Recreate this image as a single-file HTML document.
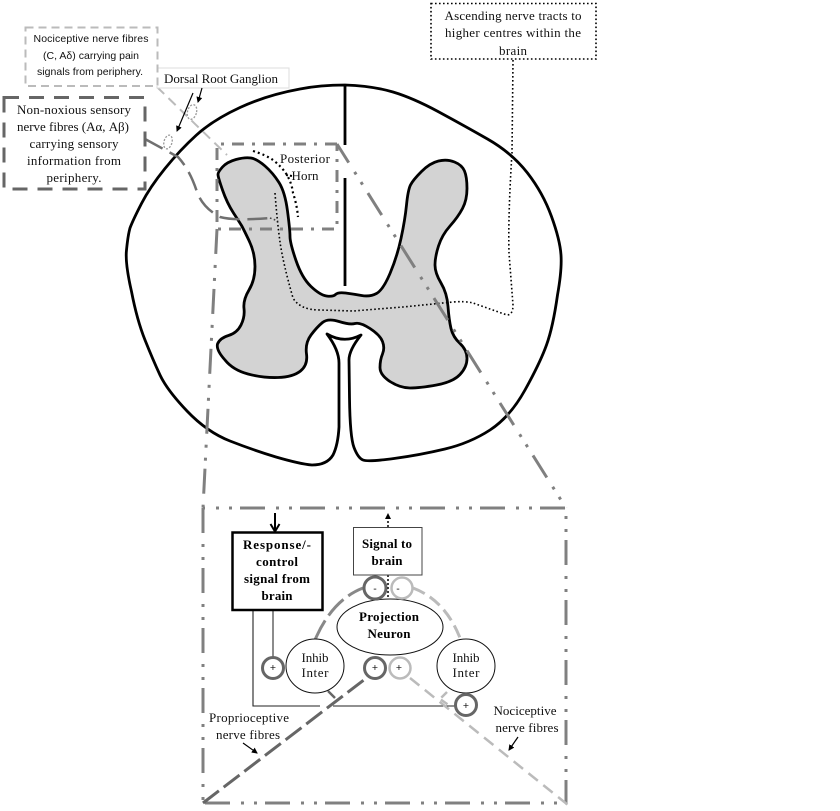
<!DOCTYPE html>
<html><head><meta charset="utf-8"><style>
html,body{margin:0;padding:0;background:#fff}
svg{display:block}
text{font-family:"Liberation Serif",serif;font-size:13px;fill:#111;text-anchor:middle}
.b{font-weight:bold;fill:#000}
.s{font-family:"Liberation Sans",sans-serif;font-size:10.5px}
</style></head><body>
<svg width="840" height="811" viewBox="0 0 840 811" xmlns="http://www.w3.org/2000/svg">
<defs>
<marker id="h" markerWidth="8" markerHeight="8" refX="5" refY="3" orient="auto" markerUnits="userSpaceOnUse"><path d="M0 0L6 3L0 6Z" fill="#000"/></marker>
</defs>
<rect width="840" height="811" fill="#fff"/>
<!-- outer outline -->
<path fill="none" stroke="#000" stroke-width="2.800" stroke-linejoin="round" d="M345 85Q373 86 393 92Q413 98 438 111.5Q463 125 487.5 139Q512 153 527.5 173Q543 193 551.5 216.5Q560 240 561 255Q562 270 557.5 295Q553 327 546.5 345Q540 363 525 390Q510 417 490 430Q470 443 445 449Q420 455 394 458.5Q368 462 363 460Q358 458 354 447.5Q350 437 349.5 398L349 360Q349 350 361 335Q344 344 327 334Q339 350 339 363L339 427Q338 445 333 455Q327 465 312 465Q300 464 276 457Q253 450 230 441Q207 432 187 411Q167 390 160 375Q153 360 145 340Q137 320 131.5 291.5Q125 263 126.5 250Q128 235 130 228Q133 220 141.5 203.5Q150 187 165 168.5Q180 150 196.5 135Q213 120 240 107.5Q267 95 300 89Q320 85 345 85Z"/>
<!-- gray matter -->
<path fill="#d3d3d3" stroke="#000" stroke-width="2.800" stroke-linejoin="round" d="M222.5 167Q227 162 236 159.5Q245 157 251 158Q257 159 265 166Q273 173 279 182.5Q285 192 287.5 211Q290 230 290 236.5Q290 243 296 260.5Q302 278 311 286.5Q320 295 326.5 296Q333 297 335.5 294.5Q338 292 345.5 293Q353 294 361.5 295.5Q370 297 376.5 293.5Q383 290 390 273.5Q397 257 401 238.5Q405 220 406.5 205Q408 190 410.5 185Q413 180 421.5 171.5Q430 163 438.5 161Q447 159 454.5 162Q462 165 464.5 171Q467 177 467 188.5Q467 200 462.5 208.5Q458 217 450 226Q442 235 438.5 246Q435 257 435 265Q435 273 441 283Q447 293 448 306.5Q449 320 451 328.5Q453 337 460 343.5Q467 350 467 358.5Q467 367 460 374.5Q453 382 436.5 385Q420 388 410 388Q400 388 390 381.5Q380 375 380 367.5Q380 360 382.5 354Q385 348 382.5 341.5Q380 335 370 328.5Q360 322 355 323.5Q350 325 339 321.5Q328 318 322.5 322.5Q317 327 311 335Q305 343 306.5 354Q308 365 300.5 371Q293 377 278 377.5Q263 378 248 374Q233 370 225 360Q216 350 217.5 344Q220 338 228.5 335.5Q237 333 241 325Q245 317 244 308.5Q243 300 249 290Q255 280 255 266.5Q255 253 249 240.5Q243 228 241.5 225.5Q240 223 233.5 213Q227 203 222.5 190Q218 177 218 174.5Q218 172 222.5 167Z"/>
<!-- midline -->
<path d="M345 85V145M345 178V286" stroke="#000" stroke-width="2.800" fill="none"/>
<!-- ascending tract dotted -->
<path fill="none" stroke="#000" stroke-width="1.6" stroke-dasharray="1.6 2.4" d="M275 193Q277 220 280 242Q283 263 293 298Q300 310 320 310L353 311L403 307L453 302Q465 301 473 303L507 315Q513 315 513 305L509 253Q508 215 512 153L513 60"/>
<!-- posterior horn dotted -->
<path fill="none" stroke="#000" stroke-width="2.200" stroke-dasharray="2 3" d="M253 151Q266 155 273 160Q282 167 287 175Q292 184 293 193Q297 205 298 217"/>
<path fill="none" stroke="#000" stroke-width="2" stroke-dasharray="2 2" d="M286 175L292 176"/>
<!-- zoom projection -->
<g fill="none" stroke="#808080" stroke-width="3">
<path stroke-dasharray="26 11 3 9 3 10" stroke-dashoffset="4" d="M337 144L566 508"/>
<path stroke-dasharray="25 11 3 10 3 8" d="M217 229L203 508"/>
<path stroke-dasharray="12 8 3 8" d="M337 144H217V229H337V144"/>
<path stroke-dasharray="25 11 3 10 3 8" stroke-dashoffset="23" d="M203 508H566"/>
<path stroke-dasharray="25 11 3 10 3 8" stroke-dashoffset="28" d="M566 508V803"/>
<path stroke-dasharray="25 11 3 10 3 8" stroke-dashoffset="58" d="M203 803H566"/>
<path stroke-dasharray="25 11 3 10 3 8" d="M203 508V803"/>
</g>
<!-- fibres top -->
<path fill="none" stroke="#bbb" stroke-width="2" stroke-dasharray="10 6" d="M157 87L227 155"/>
<path fill="none" stroke="#707070" stroke-width="2.500" stroke-dasharray="20 8" d="M145 139L178 157Q190 170 197 192Q203 208 220 217Q235 221 270 218"/>
<path fill="none" stroke="#444" stroke-width="1.6" stroke-dasharray="1.6 2.4" d="M270 218L278 221"/>
<ellipse cx="192" cy="112" rx="4.5" ry="7.5" transform="rotate(15 192 112)" fill="#fff" stroke="#999" stroke-width="1.3" stroke-dasharray="2 1.5"/>
<ellipse cx="168" cy="142" rx="4" ry="7" transform="rotate(15 168 142)" fill="#fff" stroke="#999" stroke-width="1.3" stroke-dasharray="2 1.5"/>
<!-- top labels -->
<rect x="157" y="68" width="132" height="20" fill="#fff" stroke="#ddd" stroke-width="1"/>
<text x="221" y="83" textLength="114" lengthAdjust="spacing">Dorsal Root Ganglion</text>
<rect x="25.5" y="27.5" width="132" height="58.5" fill="#fff" stroke="#bbb" stroke-width="2" stroke-dasharray="8 5"/>
<text class="s" x="91" y="42" textLength="115" lengthAdjust="spacing">Nociceptive nerve fibres</text>
<text class="s" x="91" y="59" textLength="96" lengthAdjust="spacing">(C, Aδ) carrying pain</text>
<text class="s" x="90" y="75" textLength="106" lengthAdjust="spacing">signals from periphery.</text>
<rect x="4" y="97.5" width="141" height="91.5" fill="#fff" stroke="#666" stroke-width="3" stroke-dasharray="15 10"/>
<text x="74" y="114" textLength="114" lengthAdjust="spacing">Non-noxious sensory</text>
<text x="73" y="131" textLength="112" lengthAdjust="spacing">nerve fibres (Aα, Aβ)</text>
<text x="74" y="148" textLength="89" lengthAdjust="spacing">carrying sensory</text>
<text x="74" y="165" textLength="94" lengthAdjust="spacing">information from</text>
<text x="74" y="182" textLength="55" lengthAdjust="spacing">periphery.</text>
<path d="M193 93L177 131" stroke="#000" stroke-width="1.2" fill="none" marker-end="url(#h)"/>
<path d="M202 88L198 102" stroke="#000" stroke-width="1.2" fill="none" marker-end="url(#h)"/>
<text x="305" y="163" textLength="50" lengthAdjust="spacing">Posterior</text>
<text x="305" y="180" textLength="27" lengthAdjust="spacing">Horn</text>
<text x="513" y="20" textLength="137" lengthAdjust="spacing">Ascending nerve tracts to</text>
<text x="513" y="37" textLength="136" lengthAdjust="spacing">higher centres within the</text>
<text x="513" y="55" textLength="28" lengthAdjust="spacing">brain</text>
<rect x="431" y="3.5" width="165" height="55.5" fill="none" stroke="#000" stroke-width="1.600" stroke-dasharray="1.6 2.4"/>
<!-- lower diagram -->
<g fill="none">
<path d="M315 640Q332 600 363 588" stroke="#888" stroke-width="3" stroke-dasharray="22 6"/>
<path d="M413 588Q445 600 460 638" stroke="#bbb" stroke-width="3" stroke-dasharray="13 6"/>
<path d="M273 610V657" stroke="#666" stroke-width="1.5"/>
<path d="M253 610V706H320M333 706H455" stroke="#222" stroke-width="1.1"/>
<path d="M328 691L335 698" stroke="#666" stroke-width="2.5"/>
<path d="M447 692L440 699L450 706" stroke="#bbb" stroke-width="2.5" stroke-dasharray="8 3"/>
<path d="M203 803L369 676" stroke="#666" stroke-width="3" stroke-dasharray="20 6"/>
<path d="M410 678L568 805" stroke="#bbb" stroke-width="2.5" stroke-dasharray="12 7"/>
<path d="M388 575V600" stroke="#000" stroke-width="1.5" stroke-dasharray="2 2"/>
<path d="M388 527V519" stroke="#000" stroke-width="1.5" stroke-dasharray="2 2"/>
</g>
<path d="M388 513L385 519H391Z" fill="#000"/>
<path d="M275 513V531M270.5 524L275 531.5L279.500 524" stroke="#000" stroke-width="2" fill="none"/>
<rect x="232.500" y="532.500" width="90" height="77.500" fill="#fff" stroke="#000" stroke-width="2.500"/>
<rect x="353.500" y="527.500" width="68.500" height="47.500" fill="#fff" stroke="#444" stroke-width="1"/>
<text class="b" x="277" y="549" textLength="68" lengthAdjust="spacing">Response/-</text>
<text class="b" x="277" y="566" textLength="42" lengthAdjust="spacing">control</text>
<text class="b" x="277" y="583" textLength="66" lengthAdjust="spacing">signal from</text>
<text class="b" x="277" y="600" textLength="31" lengthAdjust="spacing">brain</text>
<text class="b" x="387" y="548" textLength="50" lengthAdjust="spacing">Signal to</text>
<text class="b" x="387" y="565" textLength="31" lengthAdjust="spacing">brain</text>
<ellipse cx="390" cy="627" rx="53" ry="28" fill="#fff" stroke="#111" stroke-width="1"/>
<text class="b" x="389" y="621" textLength="60" lengthAdjust="spacing">Projection</text>
<text class="b" x="389" y="638" textLength="43" lengthAdjust="spacing">Neuron</text>
<ellipse cx="315" cy="666" rx="29" ry="27" fill="#fff" stroke="#111" stroke-width="1"/>
<ellipse cx="466" cy="666" rx="29" ry="27" fill="#fff" stroke="#111" stroke-width="1"/>
<text x="315" y="662" textLength="27" lengthAdjust="spacing">Inhib</text>
<text x="315" y="677" textLength="27" lengthAdjust="spacing">Inter</text>
<text x="466" y="662" textLength="27" lengthAdjust="spacing">Inhib</text>
<text x="466" y="677" textLength="27" lengthAdjust="spacing">Inter</text>
<g fill="#fff">
<circle cx="375" cy="588" r="11" stroke="#666" stroke-width="3"/>
<circle cx="402" cy="588" r="10.500" stroke="#bbb" stroke-width="2.500"/>
<circle cx="273" cy="668" r="10.500" stroke="#666" stroke-width="3"/>
<circle cx="375" cy="668" r="10.500" stroke="#666" stroke-width="3"/>
<circle cx="400" cy="668" r="10.500" stroke="#bbb" stroke-width="2.500"/>
<circle cx="466" cy="705" r="10.500" stroke="#666" stroke-width="3"/>
</g>
<g>
<text class="s" x="375" y="592">-</text>
<text class="s" x="398" y="592">-</text>
<text class="s" x="273" y="671">+</text>
<text class="s" x="375" y="671">+</text>
<text class="s" x="399" y="671">+</text>
<text class="s" x="466" y="709">+</text>
</g>
<text x="249" y="722" textLength="80" lengthAdjust="spacing">Proprioceptive</text>
<text x="248" y="739" textLength="64" lengthAdjust="spacing">nerve fibres</text>
<text x="525" y="715" textLength="63" lengthAdjust="spacing">Nociceptive</text>
<text x="527" y="732" textLength="63" lengthAdjust="spacing">nerve fibres</text>
<path d="M243 743L257 753" stroke="#000" stroke-width="1.2" fill="none" marker-end="url(#h)"/>
<path d="M518 737L509 750" stroke="#000" stroke-width="1.2" fill="none" marker-end="url(#h)"/>
</svg>
</body></html>
